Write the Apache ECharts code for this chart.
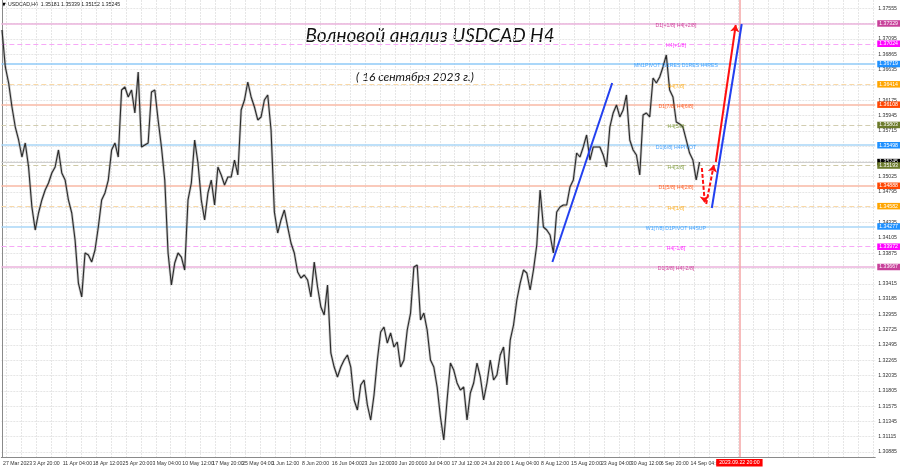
<!DOCTYPE html>
<html>
<head>
<meta charset="utf-8">
<script src="https://cdn.jsdelivr.net/npm/echarts@6/dist/echarts.min.js"></script>
<style>html,body{margin:0;padding:0;background:#fff}#c{width:900px;height:468px}</style>
</head>
<body>
<div id="c"></div>
<script>
const closePrices = [
1.37231,1.36675,1.36434,1.36073,1.35772,1.35577,1.35321,1.35532,1.35171,1.34569,
1.34223,1.34479,1.34675,1.34825,1.34930,1.35081,1.35171,1.35427,1.35081,1.34975,
1.34675,1.34479,1.34073,1.33426,1.33216,1.33878,1.33848,1.33742,1.33923,1.34269,
1.34675,1.34780,1.34975,1.35427,1.35532,1.35321,1.36329,1.36374,1.36224,1.36329,
1.35983,1.36599,1.35472,1.35502,1.35532,1.36299,1.36329,1.35878,1.35472,1.34975,
1.33878,1.33396,1.33727,1.33878,1.33817,1.33622,1.34675,1.34930,1.35577,1.35231,
1.34675,1.34374,1.34780,1.34975,1.34599,1.35171,1.35051,1.34900,1.35020,1.35020,
1.35276,1.35051,1.36028,1.36178,1.36449,1.36224,1.36073,1.35878,1.35923,1.36178,
1.36254,1.35727,1.34494,1.34178,1.34374,1.34524,1.34269,1.34028,1.33878,1.33592,
1.33502,1.33547,1.33472,1.33216,1.33742,1.33366,1.33066,1.32945,1.33396,1.32374,
1.32163,1.32013,1.32163,1.32269,1.32344,1.32163,1.31667,1.31517,1.31893,1.31968,
1.31592,1.31366,1.31742,1.32269,1.32690,1.32765,1.32524,1.32675,1.32464,1.32539,
1.32163,1.32269,1.32720,1.32975,1.33667,1.33697,1.32870,1.32975,1.32720,1.32269,
1.32163,1.31863,1.31411,1.31065,1.31667,1.32223,1.32118,1.31923,1.31817,1.31863,
1.31366,1.31772,1.31923,1.32223,1.32013,1.31667,1.31923,1.32269,1.31968,1.32043,
1.32344,1.32464,1.31893,1.32569,1.32795,1.33171,1.33426,1.33622,1.33577,1.33321,
1.33622,1.33998,1.34825,1.34269,1.34223,1.34148,1.33878,1.34494,1.34569,1.34599,
1.34599,1.34870,1.34975,1.35381,1.35321,1.35472,1.35652,1.35276,1.35472,1.35472,
1.35472,1.35351,1.35171,1.35772,1.35983,1.36103,1.35923,1.36028,1.36254,1.35577,
1.35427,1.35351,1.35051,1.35953,1.35983,1.35923,1.36509,1.36434,1.36524,1.36675,
1.36855,1.36329,1.36224,1.35848,1.35818,1.35772,1.35577,1.35381,1.35276,1.34975,
1.35245
];
const levelPrices = [1.37329,1.37024,1.36719,1.36414,1.36108,1.35803,1.35498,1.35193,1.34888,1.34582,1.34277,1.33972,1.33667];
const levelNames = ['D1[+1/8] H4[+2/8]','H4[+1/8]','MN1PIVOT W1RES D1RES H4RES','H4[7/8]','D1[7/8] H4[6/8]','H4[5/8]','D1[6/8] H4PIVOT','H4[3/8]','D1[5/8] H4[2/8]','H4[1/8]','W1[7/8] D1PIVOT H4SUP','H4[-1/8]','D1[3/8] H4[-2/8]'];
const currentPrice = 1.35245;
const headerText = 'USDCAD,H4  1.35181 1.35339 1.35152 1.35245';
const priceTicks = [1.30885,1.31115,1.31345,1.31575,1.31805,1.32035,1.32265,1.32495,1.32725,1.32955,1.33185,1.33415,1.33645,1.33875,1.34105,1.34335,1.34565,1.34795,1.35025,1.35255,1.35485,1.35715,1.35945,1.36175,1.36405,1.36635,1.36865,1.37095,1.37325,1.37555];
const priceTickLabels = [1.30885,1.31115,1.31345,1.31575,1.31805,1.32035,1.32265,1.32495,1.32725,1.32955,1.33185,1.33415,1.33875,1.34105,1.34335,1.34795,1.35025,1.35715,1.35945,1.36175,1.36635,1.36865,1.37095,1.37555];
const timeLabels = ['27 Mar 2023','3 Apr 20:00','11 Apr 04:00','18 Apr 12:00','25 Apr 20:00','3 May 04:00','10 May 12:00','17 May 20:00','25 May 04:00','1 Jun 12:00','8 Jun 20:00','16 Jun 04:00','23 Jun 12:00','30 Jun 20:00','10 Jul 04:00','17 Jul 12:00','24 Jul 20:00','1 Aug 04:00','8 Aug 12:00','15 Aug 20:00','23 Aug 04:00','30 Aug 12:00','6 Sep 20:00','14 Sep 04:00'];
const futureLabel = '2023.09.22 20:00';
const futureIndex = 222;
const titleText = 'Волновой анализ USDCAD H4';
const subtitleText = '( 16 сентября 2023 г.)';
// annotation lines: [sample index, price]
const trendLine1 = [[165.7,1.33742],[183.7,1.36434]];
const trendLine2 = [[213.7,1.34554],[222.7,1.37321]];
const arrowUp = [[214.9,1.35246],[220.9,1.37306]];
const arrowDown = [[210.7,1.35156],[211.6,1.34629]];
const arrowBack = [[212.0,1.34614],[214.3,1.35201]];

// ---- styles ----
const lineColors = ['#ebb3dc','#f7a8f7','#8fcaf7','#f9d9a8','#f9b8a4','#d2cdb0','#a9d6f7','#cfc9a7','#f9b8a4','#f9d9a8','#a9d6f7','#f7a8f7','#ebb3dc'];
const lineDashed = [false,true,false,true,false,true,false,true,false,true,false,true,false];
const boxColors = ['#c8409a','#ff00ff','#1e90ff','#ffa500','#ff4500','#6b7a2a','#1e90ff','#6b7a2a','#ff4500','#ffa500','#1e90ff','#ff00ff','#c8409a'];
const textColors = ['#c71585','#ff00ff','#1e90ff','#ffa500','#ff4500','#6b8e23','#1e90ff','#6b8e23','#ff4500','#ffa500','#1e90ff','#ff00ff','#c71585'];
const LABEL_X = 202.9;
const FS = 5.2;
const FF = 'Liberation Sans';

const pathData = closePrices.map((v, i) => [i, v]);
const gridTicks = [];
for (let v = 1.29; v < 263; v += 4.5) gridTicks.push(+v.toFixed(2));
const timeTickPos = timeLabels.map((_, k) => 0.3 + 9 * k);

const boxLabel = (text, bg) => ({ show: true, position: 'end', formatter: text, backgroundColor: bg, color: '#fff', fontSize: FS, fontFamily: FF, padding: [1, 2, 0.5, 2], distance: 2 });
const markLines = [];
markLines.push({ yAxis: currentPrice, lineStyle: { color: '#cfcfcf', type: 'solid', width: 1, opacity: 1 }, label: boxLabel(currentPrice.toFixed(5), '#000') });
levelPrices.forEach((p, k) => markLines.push({
  yAxis: p,
  lineStyle: { color: lineColors[k], type: lineDashed[k] ? [5, 3] : 'solid', width: lineDashed[k] ? 1.2 : 1.6, opacity: 1 },
  label: boxLabel(p.toFixed(5), boxColors[k])
}));
markLines.push({
  xAxis: futureIndex,
  lineStyle: { color: '#f4a6a6', type: 'solid', width: 1.5, opacity: 1 },
  label: { show: true, position: 'start', formatter: futureLabel, backgroundColor: '#ff0000', color: '#fff', fontSize: FS, fontFamily: FF, padding: [1.5, 3, 1, 3], distance: 2 }
});

const chart = echarts.init(document.getElementById('c'), null, { renderer: 'canvas' });
chart.setOption({
  animation: false,
  backgroundColor: '#fff',
  grid: { left: 0, right: 23, top: 0, bottom: 11, containLabel: false },
  xAxis: {
    type: 'value', min: -0.2, max: 262.9,
    axisLine: { show: true, lineStyle: { color: '#8a8a8a', width: 1 } },
    axisTick: { show: false, customValues: gridTicks },
    splitLine: { show: true, lineStyle: { color: '#e6e6e6', type: [2, 1], width: 1 } },
    axisLabel: {
      customValues: timeTickPos, align: 'left', fontSize: FS, color: '#333', margin: 4,
      showMinLabel: true, showMaxLabel: true, hideOverlap: false, fontFamily: FF,
      formatter: v => { const k = Math.round((v - 0.3) / 9); return timeLabels[k] || ''; }
    }
  },
  yAxis: {
    type: 'value', position: 'right', min: 1.30810, max: 1.37682, scale: true,
    axisLine: { show: true, lineStyle: { color: '#8a8a8a', width: 1 } },
    axisTick: { show: false, customValues: priceTicks },
    splitLine: { show: true, lineStyle: { color: '#e6e6e6', type: [2, 1], width: 1 } },
    axisLabel: { customValues: priceTickLabels, fontSize: FS, color: '#333', margin: 3, fontFamily: FF, hideOverlap: false, formatter: v => v.toFixed(5) }
  },
  graphic: [
    { type: 'text', x: 2, y: 5, style: { text: '\u25BC', font: '5px DejaVu Sans', fill: '#000', textVerticalAlign: 'middle' } },
    { type: 'text', x: 8, y: 5, style: { text: headerText, font: '5.2px Liberation Sans', fill: '#222', textVerticalAlign: 'middle' } },
    { type: 'text', x: 430, y: 36, style: { text: titleText, font: 'italic 19px Lato', fill: '#111', textAlign: 'center', textVerticalAlign: 'middle' } },
    { type: 'text', x: 415, y: 77, style: { text: subtitleText, font: 'italic 12px Lato', fill: '#111', textAlign: 'center', textVerticalAlign: 'middle' } }
  ],
  series: [
    {
      name: 'halo', type: 'line', data: pathData, showSymbol: false, symbol: 'none',
      lineStyle: { color: 'rgba(120,120,120,0.4)', width: 2.6 }, z: 3,
      markLine: { symbol: ['none', 'none'], precision: 6, silent: true, animation: false, data: markLines, z: 1 }
    },
    {
      name: 'close', type: 'line', data: pathData, showSymbol: false, symbol: 'none',
      lineStyle: { color: '#2a2a2a', width: 1.1 }, z: 4
    },
    {
      name: 'levelNames', type: 'scatter', symbolSize: 0, z: 5,
      data: levelPrices.map((p, k) => ({ value: [LABEL_X, p], name: levelNames[k], label: { color: textColors[k] } })),
      label: { show: true, position: 'inside', offset: [0, 2], fontSize: FS, fontFamily: FF, formatter: q => q.name }
    },
    { name: 'trend1', type: 'line', data: trendLine1, showSymbol: false, symbol: 'none', lineStyle: { color: '#2340f0', width: 2 }, z: 6 },
    { name: 'trend2', type: 'line', data: trendLine2, showSymbol: false, symbol: 'none', lineStyle: { color: '#2340f0', width: 2 }, z: 6 },
    {
      name: 'arrows', type: 'lines', coordinateSystem: 'cartesian2d', z: 7,
      symbol: ['none', 'arrow'], symbolSize: 7,
      lineStyle: { opacity: 1, width: 2, color: '#ff1010' },
      data: [
        { coords: arrowUp, lineStyle: { color: '#ff1010', width: 2, type: 'solid', opacity: 1 } },
        { coords: arrowDown, lineStyle: { color: '#ff1010', width: 2, type: [4, 2], opacity: 1 } },
        { coords: arrowBack, lineStyle: { color: '#ff1010', width: 2, type: [4, 2], opacity: 1 } }
      ]
    }
  ]
});
</script>
</body>
</html>
